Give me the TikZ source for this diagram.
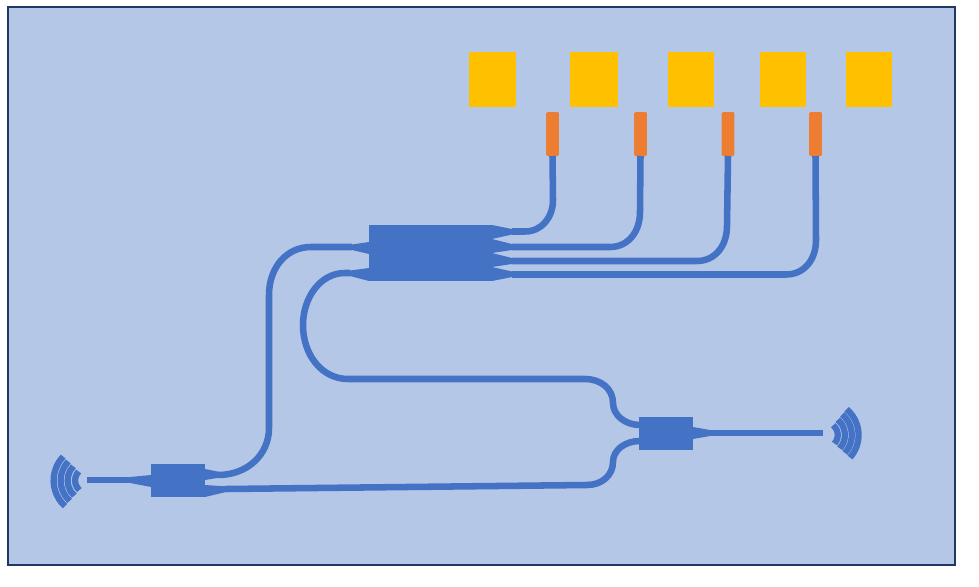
\documentclass[tikz,border=0pt]{standalone}
\usetikzlibrary{positioning}

\definecolor{panelblue}{HTML}{B4C7E7}
\definecolor{edgeblue}{HTML}{1F3864}
\definecolor{guideblue}{HTML}{4472C4}
\definecolor{padyellow}{HTML}{FFC000}
\definecolor{stuborange}{HTML}{ED7D31}

\begin{document}
\begin{tikzpicture}[
    x = 0.75pt,
    y = -0.75pt,
    guide/.style = {
      draw = guideblue,
      line width = 4.9pt
    },
    taper/.style = {
      fill = guideblue
    },
    coupler/.style = {
      fill = guideblue,
      inner sep = 0pt,
      outer sep = 0pt,
      rectangle
    },
    pad/.style = {
      fill = padyellow,
      inner sep = 0pt,
      outer sep = 0pt,
      minimum height = 41.25pt,
      rectangle
    },
    stub/.style = {
      fill = stuborange,
      inner sep = 0pt,
      outer sep = 0pt,
      minimum width = 9.5pt,
      minimum height = 33pt,
      rounded corners = 1pt,
      rectangle
    },
    wave/.style = {
      draw = guideblue,
      line width = 4.7pt
    }
  ]
  \useasboundingbox (0,0) rectangle (979,586);

  \draw[draw=edgeblue, fill=panelblue, line width=1.5pt] (8,7) rectangle (955,565);

  \node[pad, minimum width=35pt] (pad1) at (492.5,79.5) {};
  \node[pad, minimum width=36pt] (pad2) at (594,79.5) {};
  \node[pad, minimum width=34.5pt] (pad3) at (691,79.5) {};
  \node[pad, minimum width=34.5pt] (pad4) at (783,79.5) {};
  \node[pad, minimum width=34.5pt] (pad5) at (869,79.5) {};

  \node[stub] (stub1) at (552.5,134) {};
  \node[stub] (stub2) at (640.5,134) {};
  \node[stub] (stub3) at (728,134) {};
  \node[stub] (stub4) at (815.5,134) {};

  \node[coupler, minimum width=92.25pt, minimum height=42pt] (main) at (430.5,253) {};
  \node[coupler, minimum width=40.5pt, minimum height=24.75pt] (input) at (178,480.5) {};
  \node[coupler, minimum width=40.5pt, minimum height=24.75pt] (output) at (666,433.5) {};

  % tapers on the main coupler
  \fill[taper] (369,242) -- (352,244.5) -- (352,250) -- (369,254) -- cycle;
  \fill[taper] (369,268) -- (350,270.5) -- (350,276) -- (369,281) -- cycle;
  \fill[taper] (492,225) -- (512,229) -- (512,234.5) -- (492,239) -- cycle;
  \fill[taper] (492,239) -- (512,244) -- (512,250) -- (492,253) -- cycle;
  \fill[taper] (492,253) -- (512,258) -- (512,264) -- (492,267) -- cycle;
  \fill[taper] (492,267) -- (512,271.5) -- (512,277) -- (492,281) -- cycle;

  % tapers on the two small couplers
  \fill[taper] (151,475) -- (130,477) -- (130,483) -- (151,487) -- cycle;
  \fill[taper] (205,469) -- (220,472) -- (220,477.5) -- (205,480) -- cycle;
  \fill[taper] (205,485) -- (220,486) -- (228,486) -- (228,491.5) -- (205,497) -- cycle;
  \fill[taper] (693,427) -- (710,430) -- (710,436) -- (693,439) -- cycle;

  \coordinate (mainL1) at (352,247);
  \coordinate (mainL2) at (350,273);
  \coordinate (mainR1) at (512,231.5);
  \coordinate (mainR2) at (512,247);
  \coordinate (mainR3) at (512,261);
  \coordinate (mainR4) at (512,274.5);
  \coordinate (inputL) at (130,480);
  \coordinate (inputR1) at (218,475);
  \coordinate (inputR2) at (226,489);
  \coordinate (outputL1) at (640,425);
  \coordinate (outputL2) at (640,441);
  \coordinate (outputR) at (710,433);
  \coordinate (antL) at (88,480.5);
  \coordinate (antR) at (825,435);
  \coordinate (feedL) at (87,480);
  \coordinate (feedR) at (823,433);

  \draw[guide] (mainR1) -- (525,231.5) .. controls (542,231.5) and (553,217) .. (553,200) -- (stub1.south);
  \draw[guide] (mainR2) -- (610,247) .. controls (628,247) and (640,232) .. (640,212) -- (stub2.south);
  \draw[guide] (mainR3) -- (697,261) .. controls (715,261) and (727,246) .. (727,226) -- (stub3.south);
  \draw[guide] (mainR4) -- (786,274.5) .. controls (804,274.5) and (816,260) .. (816,240) -- (stub4.south);

  \draw[guide] (mainL1) -- (311,247) .. controls (286,247) and (269,268) .. (269,295) -- (269,428) .. controls (269,455) and (247,475) .. (218,475) -- (inputR1);
  \draw[guide] (mainL2) -- (345,273) .. controls (320,273) and (303,298) .. (303,325) .. controls (303,355) and (322,379) .. (348,379) -- (585,379) .. controls (601,379) and (613,389) .. (613,403) .. controls (613,415) and (625,425) .. (outputL1);
  \draw[guide] (inputR2) -- (587,485) .. controls (602,485) and (613,475) .. (613,462) .. controls (613,450) and (625,441) .. (outputL2);

  \draw[guide] (feedL) -- (inputL);
  \draw[guide] (outputR) -- (feedR);

  % left antenna
  \foreach \r in {25.8,20.5,15.3,9.7} {
    \draw[wave] ([shift=(136:\r pt)]antL) arc[start angle=136, end angle=228, radius=\r pt];
  }
  % right antenna
  \foreach \r in {25.2,20.1,15,9.6} {
    \draw[wave] ([shift=(-42:\r pt)]antR) arc[start angle=-42, end angle=50, radius=\r pt];
  }
\end{tikzpicture}
\end{document}
